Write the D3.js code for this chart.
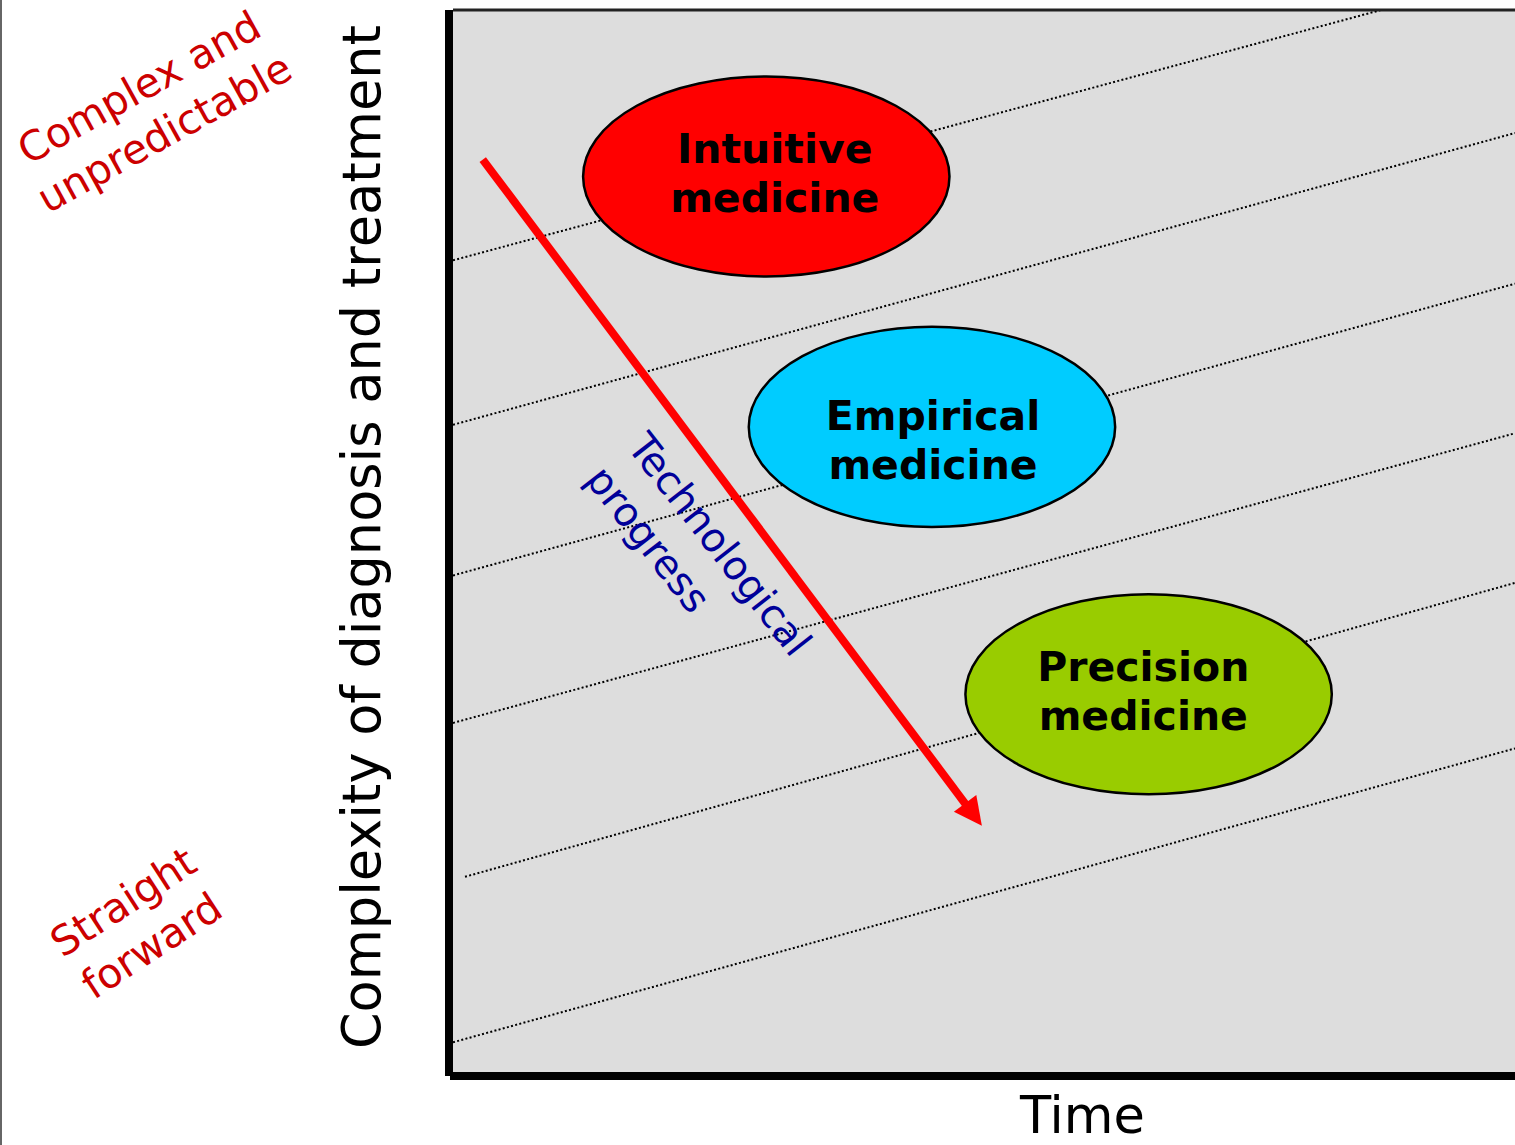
<!DOCTYPE html>
<html>
<head>
<meta charset="utf-8">
<script src="https://cdn.jsdelivr.net/npm/d3@7"></script>
<style>
  html, body { margin: 0; padding: 0; background: #fff; }
  svg { display: block; }
</style>
</head>
<body>
<script>
// approaches of medicine (ellipses), positions in time / complexity units (0-100)
const approachNames = [["Intuitive", "medicine"], ["Empirical", "medicine"], ["Precision", "medicine"]];
const approachTime = [29.5, 45.1, 65.5];
const approachComplexity = [84.4, 60.8, 35.6];
const approachLabelTime = [30.3, 45.2, 65.0];
const approachLabelComplexity = [83.4, 58.2, 34.5];
const approachColors = ["#ff0000", "#00ccff", "#99cc00"];

// dotted guide lines: [start time, complexity at start, complexity at time 100]
const guideStartTime = [0, 0, 0, 0, 1.13, 0];
const guideStart = [76.5, 61.0, 46.8, 32.9, 18.4, 2.8];
const guideEnd = [103.5, 88.5, 74.3, 60.2, 46.1, 30.5];

// technological progress arrow [time, complexity]
const arrowFrom = [2.8, 86.0];
const arrowTo = [49.8, 23.2];

const yTitle = "Complexity of diagnosis and treatment";
const xTitle = "Time";
const topLabel = ["Complex and", "unpredictable"];
const bottomLabel = ["Straight", "forward"];
const arrowLabel = ["Technological", "progress"];

const W = 1515, H = 1145;
const plot = { left: 453, top: 11, right: 1515, bottom: 1072 };

const x = d3.scaleLinear().domain([0, 100]).range([plot.left, plot.right]);
const y = d3.scaleLinear().domain([0, 100]).range([plot.bottom, plot.top]);

const svg = d3.select("body").append("svg")
    .attr("width", W)
    .attr("height", H);

svg.append("defs").append("clipPath")
    .attr("id", "plotClip")
    .append("rect")
    .attr("x", plot.left).attr("y", plot.top)
    .attr("width", plot.right - plot.left).attr("height", plot.bottom - plot.top);

// page edge
svg.append("line")
    .attr("x1", 1).attr("x2", 1).attr("y1", 0).attr("y2", H)
    .attr("stroke", "#666").attr("stroke-width", 2);

// plot background
svg.append("rect")
    .attr("x", plot.left).attr("y", plot.top)
    .attr("width", plot.right - plot.left).attr("height", plot.bottom - plot.top)
    .attr("fill", "#dddddd");

// top border
svg.append("line")
    .attr("x1", plot.left).attr("x2", plot.right)
    .attr("y1", plot.top - 1).attr("y2", plot.top - 1)
    .attr("stroke", "#222").attr("stroke-width", 3);

const g = svg.append("g").attr("clip-path", "url(#plotClip)");

// dotted guide lines
g.selectAll(".guide")
    .data(guideStart)
    .enter().append("line")
    .attr("class", "guide")
    .attr("x1", (d, i) => x(guideStartTime[i]))
    .attr("y1", (d, i) => y(d))
    .attr("x2", x(100))
    .attr("y2", (d, i) => y(guideEnd[i]))
    .attr("stroke", "#000")
    .attr("stroke-width", 2)
    .attr("stroke-dasharray", "2,2.3");

// ellipses
const rx = x(17.25) - x(0);
const ry = y(0) - y(9.43);

g.selectAll(".approach")
    .data(approachNames)
    .enter().append("ellipse")
    .attr("class", "approach")
    .attr("cx", (d, i) => x(approachTime[i]))
    .attr("cy", (d, i) => y(approachComplexity[i]))
    .attr("rx", rx)
    .attr("ry", ry)
    .attr("fill", (d, i) => approachColors[i])
    .attr("stroke", "#000")
    .attr("stroke-width", 2.5);

const labels = g.selectAll(".approach-label")
    .data(approachNames)
    .enter().append("text")
    .attr("class", "approach-label")
    .attr("text-anchor", "middle")
    .attr("font-family", "DejaVu Sans")
    .attr("font-weight", "bold")
    .attr("font-size", 41)
    .attr("fill", "#000");

labels.selectAll("tspan")
    .data((d, i) => d.map(t => ({ t: t, i: i })))
    .enter().append("tspan")
    .attr("x", d => x(approachLabelTime[d.i]))
    .attr("y", (d, j) => y(approachLabelComplexity[d.i]) + (j === 0 ? -24.5 : 24.5))
    .text(d => d.t);

// arrow
const ax1 = x(arrowFrom[0]), ay1 = y(arrowFrom[1]);
const ax2 = x(arrowTo[0]), ay2 = y(arrowTo[1]);
const ang = Math.atan2(ay2 - ay1, ax2 - ax1);
const headLen = 28, headHalf = 14;
const ux = Math.cos(ang), uy = Math.sin(ang);

g.append("line")
    .attr("x1", ax1).attr("y1", ay1)
    .attr("x2", ax2 - ux * (headLen - 2)).attr("y2", ay2 - uy * (headLen - 2))
    .attr("stroke", "#ff0000")
    .attr("stroke-width", 8);

const bx = ax2 - ux * headLen, by = ay2 - uy * headLen;
g.append("polygon")
    .attr("points", [
        [ax2, ay2],
        [bx - uy * headHalf, by + ux * headHalf],
        [bx + uy * headHalf, by - ux * headHalf]
    ].map(p => p.join(",")).join(" "))
    .attr("fill", "#ff0000");

// technological progress label
const tech = svg.append("text")
    .attr("transform", "translate(626,447) rotate(52)")
    .attr("font-family", "DejaVu Sans")
    .attr("font-size", 40)
    .attr("fill", "#000099");
tech.selectAll("tspan")
    .data(arrowLabel)
    .enter().append("tspan")
    .attr("x", 0)
    .attr("y", (d, i) => i * 53)
    .text(d => d);

// left/bottom axis borders
svg.append("line")
    .attr("x1", plot.left - 4).attr("x2", plot.left - 4)
    .attr("y1", plot.top - 1).attr("y2", plot.bottom + 4)
    .attr("stroke", "#000").attr("stroke-width", 8);
svg.append("line")
    .attr("x1", plot.left - 3).attr("x2", plot.right)
    .attr("y1", plot.bottom + 4).attr("y2", plot.bottom + 4)
    .attr("stroke", "#000").attr("stroke-width", 8);

// axis titles
svg.append("text")
    .attr("transform", "translate(380,537) rotate(-90)")
    .attr("text-anchor", "middle")
    .attr("font-family", "DejaVu Sans")
    .attr("font-size", 52.5)
    .attr("fill", "#000")
    .text(yTitle);

svg.append("text")
    .attr("x", 1020)
    .attr("y", 1133)
    .attr("font-family", "DejaVu Sans")
    .attr("font-size", 51)
    .attr("fill", "#000")
    .text(xTitle);

// red side labels
function sideLabel(lines, tx, ty, rot) {
    const t = svg.append("text")
        .attr("transform", "translate(" + tx + "," + ty + ") rotate(" + rot + ")")
        .attr("text-anchor", "middle")
        .attr("font-family", "DejaVu Sans")
        .attr("font-size", 41)
        .attr("fill", "#cc0000");
    t.selectAll("tspan")
        .data(lines)
        .enter().append("tspan")
        .attr("x", 0)
        .attr("y", (d, i) => i * 52)
        .text(d => d);
}
sideLabel(topLabel, 146, 100, -29);
sideLabel(bottomLabel, 131, 914, -33);
</script>
</body>
</html>
